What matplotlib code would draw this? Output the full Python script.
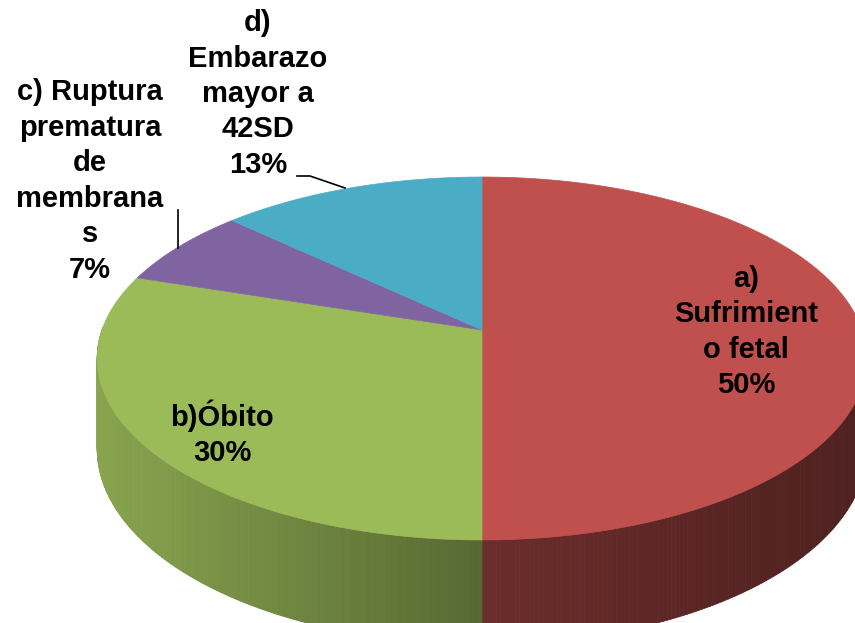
import numpy as np
import matplotlib.pyplot as plt
from matplotlib.patches import Polygon
from matplotlib.colors import to_rgb

# datos del grafico
etiquetas = ['a)\nSufrimient\no fetal\n50%', 'b)Óbito\n30%',
             'c) Ruptura\nprematura\nde\nmembrana\ns\n7%', 'd)\nEmbarazo\nmayor a\n42SD\n13%']
valores = [50, 30, 7, 13]
colores = ['#C0504D', '#9BBB59', '#8064A2', '#4BACC6']

# geometria del pastel en pixeles (perspectiva simple)
cx, cy = 482, 330
rx = 380
k = 0.157
A = 177
prof = 88


def proyectar(theta, z=0.0):
    s = -np.sin(theta)
    x = cx + rx * np.cos(theta) / (1 - k * s)
    y = cy + A * s / (1 - k * s) + z * prof / (1 - k * s)
    return x, y


def sombra(x):
    # factor de oscurecimiento de la pared lateral
    return np.interp(x, [97, 482, 867], [0.88, 0.56, 0.40])


fig = plt.figure(figsize=(8.55, 6.23), dpi=100)
ax = fig.add_axes([0, 0, 1, 1])
ax.set_xlim(0, 855)
ax.set_ylim(623, 0)
ax.axis('off')

total = sum(valores)
inicio = np.pi / 2
angulos = []
for v in valores:
    fin = inicio - 2 * np.pi * v / total
    angulos.append((inicio, fin))
    inicio = fin

# paredes laterales (mitad frontal), de atras hacia adelante
tiras = []
for (a0, a1), col in zip(angulos, colores):
    base = np.array(to_rgb(col))
    ts = np.linspace(a0, a1, 300)
    for t0, t1 in zip(ts[:-1], ts[1:]):
        tm = 0.5 * (t0 + t1)
        if -np.sin(tm) < -0.02:
            continue
        tiras.append((-np.sin(tm), t0, t1, base))

for s, t0, t1, base in sorted(tiras, key=lambda r: r[0]):
    x0, y0 = proyectar(t0)
    x1, y1 = proyectar(t1)
    _, b0 = proyectar(t0, 1)
    _, b1 = proyectar(t1, 1)
    c = base * sombra(0.5 * (x0 + x1))
    ax.add_patch(Polygon([(x0, y0), (x1, y1), (x1, b1), (x0, b0)],
                         closed=True, facecolor=c, edgecolor=c, lw=0.6))

# caras superiores
for (a0, a1), col in zip(angulos, colores):
    ts = np.linspace(a0, a1, 200)
    xs, ys = proyectar(ts)
    pts = [(cx, cy)] + list(zip(xs, ys))
    ax.add_patch(Polygon(pts, closed=True, facecolor=col, edgecolor=col, lw=0.5))

# etiquetas
pos = [(746, 332), (222, 433), (90, 181), (258, 94)]
for txt, (x, y) in zip(etiquetas, pos):
    ax.text(x, y, txt, ha='center', va='center', fontsize=21, fontweight='bold',
            family=['Liberation Sans', 'DejaVu Sans'], linespacing=1.34, color='black')

# lineas guia
ax.plot([297, 310, 345], [176, 176, 188], color='black', lw=1.2)
ax.plot([178, 178], [210, 248], color='black', lw=1.2)

fig.savefig('out.png', dpi=100)
